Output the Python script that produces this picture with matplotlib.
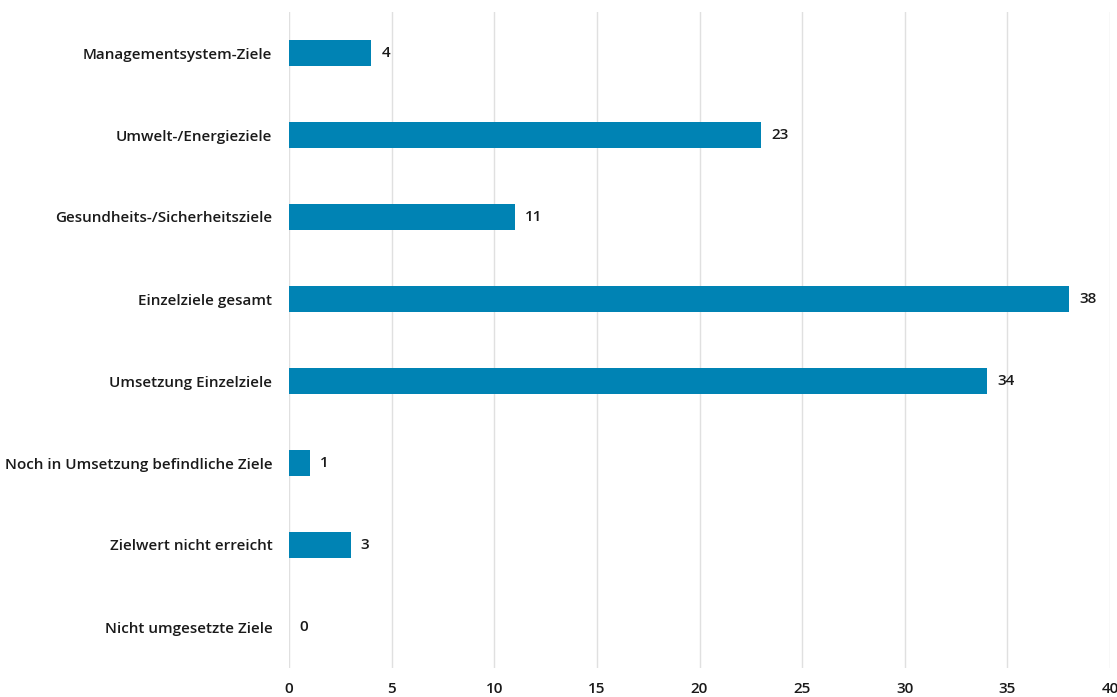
import matplotlib.pyplot as plt

categories = [
    "Managementsystem-Ziele",
    "Umwelt-/Energieziele",
    "Gesundheits-/Sicherheitsziele",
    "Einzelziele gesamt",
    "Umsetzung Einzelziele",
    "Noch in Umsetzung befindliche Ziele",
    "Zielwert nicht erreicht",
    "Nicht umgesetzte Ziele",
]
values = [4, 23, 11, 38, 34, 1, 3, 0]
xticks = [0, 5, 10, 15, 20, 25, 30, 35, 40]

plt.rcParams['font.family'] = ['Open Sans', 'DejaVu Sans']

fig = plt.figure(figsize=(11.17, 6.97), dpi=100)
ax = fig.add_axes([289 / 1117, 1 - 668 / 697, (1110 - 289) / 1117, (668 - 12) / 697])

y = list(range(len(categories)))
ax.barh(y, values, height=0.32, color="#0083b4", zorder=3)

for yi, v in zip(y, values):
    ax.text(v + 0.5, yi, str(v), va="center", ha="left", fontsize=11,
            fontweight="semibold", color="#1a1a1a")

ax.set_xlim(0, 40)
ax.set_ylim(len(categories) - 0.5, -0.5)
ax.set_xticks(xticks)
ax.set_yticks(y)
ax.set_yticklabels(categories, fontsize=11, fontweight="semibold", color="#1a1a1a")
ax.tick_params(axis="x", labelsize=11, colors="#1a1a1a", length=0, pad=10)
ax.tick_params(axis="y", length=0, pad=12)
for lbl in ax.get_xticklabels():
    lbl.set_fontweight("semibold")

ax.grid(axis="x", color="#e0e0e0", linewidth=1, zorder=0)
for s in ax.spines.values():
    s.set_visible(False)

fig.savefig("out.png", dpi=100)
